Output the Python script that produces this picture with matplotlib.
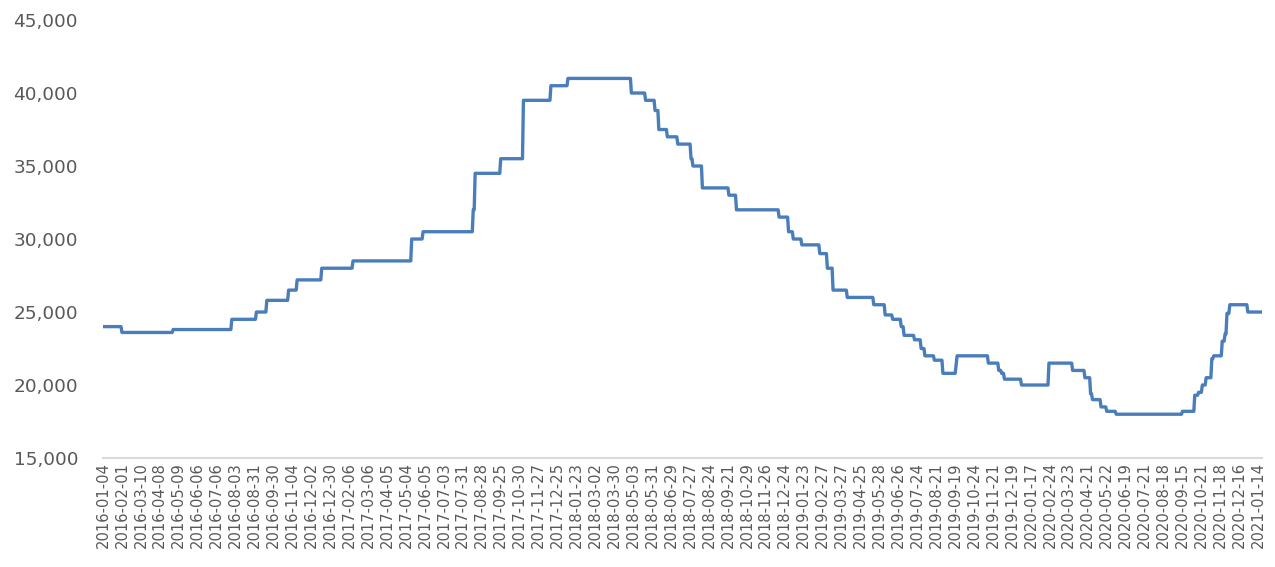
import matplotlib
matplotlib.use("Agg")
import matplotlib.pyplot as plt
import numpy as np
from matplotlib.ticker import FuncFormatter

# price level and number of trading days it was held, in order
levels = [24000, 23600, 23800, 24500, 25000, 25800, 26500, 27200, 28000, 28500,
          30000, 30500, 32000, 34500, 35500, 39500, 40500, 41000, 40000, 39500,
          38800, 37500, 37000, 36500, 35500, 35000, 33500, 33000, 32000, 31500,
          30500, 30000, 29600, 29000, 28000, 26500, 26000, 25500, 24800, 24500,
          24000, 23400, 23100, 22500, 22000, 21700, 20800, 21400, 22000, 21500,
          21000, 20800, 20400, 20000, 21500, 21000, 20500, 19400, 19000, 18500,
          18200, 18000, 18200, 19300, 19500, 20000, 20500, 21800, 22000, 23000,
          23500, 24900, 25500, 25000]
days_held = [20, 54, 62, 26, 11, 23, 9, 26, 33, 62,
             12, 53, 2, 27, 24, 29, 18, 67, 15, 10,
             4, 9, 11, 14, 2, 10, 28, 8, 45, 10,
             5, 9, 19, 8, 6, 15, 28, 12, 8, 9,
             3, 11, 7, 4, 10, 9, 14, 1, 33, 11,
             3, 3, 18, 29, 25, 13, 6, 2, 9, 6,
             10, 70, 13, 4, 4, 4, 6, 2, 9, 3,
             2, 3, 19, 16]

# x-axis labels, one every 20 trading days
date_labels = [
    "2016-01-04", "2016-02-01", "2016-03-10", "2016-04-08", "2016-05-09", "2016-06-06",
    "2016-07-06", "2016-08-03", "2016-08-31", "2016-09-30", "2016-11-04", "2016-12-02",
    "2016-12-30", "2017-02-06", "2017-03-06", "2017-04-05", "2017-05-04", "2017-06-05",
    "2017-07-03", "2017-07-31", "2017-08-28", "2017-09-25", "2017-10-30", "2017-11-27",
    "2017-12-25", "2018-01-23", "2018-03-02", "2018-03-30", "2018-05-03", "2018-05-31",
    "2018-06-29", "2018-07-27", "2018-08-24", "2018-09-21", "2018-10-29", "2018-11-26",
    "2018-12-24", "2019-01-23", "2019-02-27", "2019-03-27", "2019-04-25", "2019-05-28",
    "2019-06-26", "2019-07-24", "2019-08-21", "2019-09-19", "2019-10-24", "2019-11-21",
    "2019-12-19", "2020-01-17", "2020-02-24", "2020-03-23", "2020-04-21", "2020-05-22",
    "2020-06-19", "2020-07-21", "2020-08-18", "2020-09-15", "2020-10-21", "2020-11-18",
    "2020-12-16", "2021-01-14"]
label_step = 20

prices = np.repeat(levels, days_held)
x = np.arange(len(prices))

fig = plt.figure(figsize=(12.75, 5.67), dpi=100)
ax = fig.add_axes([0.0808, 0.1922, 0.9090, 0.7725])

ax.plot(x, prices, color="#4A7EBB", linewidth=2.4, solid_joinstyle="round")

ax.set_xlim(0, len(prices) - 1)
ax.set_ylim(15000, 45000)
ax.set_yticks(np.arange(15000, 45001, 5000))
ax.yaxis.set_major_formatter(FuncFormatter(lambda v, p: f"{int(v):,}"))

ax.set_xticks(np.arange(len(date_labels)) * label_step)
ax.set_xticklabels(date_labels, rotation=90, fontsize=10.6, color="#595959")

ax.tick_params(axis="y", length=0, pad=18, labelsize=13.3, labelcolor="#595959")
ax.tick_params(axis="x", length=0, pad=3)

for s in ["top", "right", "left"]:
    ax.spines[s].set_visible(False)
ax.spines["bottom"].set_color("#D9D9D9")
ax.spines["bottom"].set_linewidth(1.5)

fig.savefig("out.png", dpi=100)
